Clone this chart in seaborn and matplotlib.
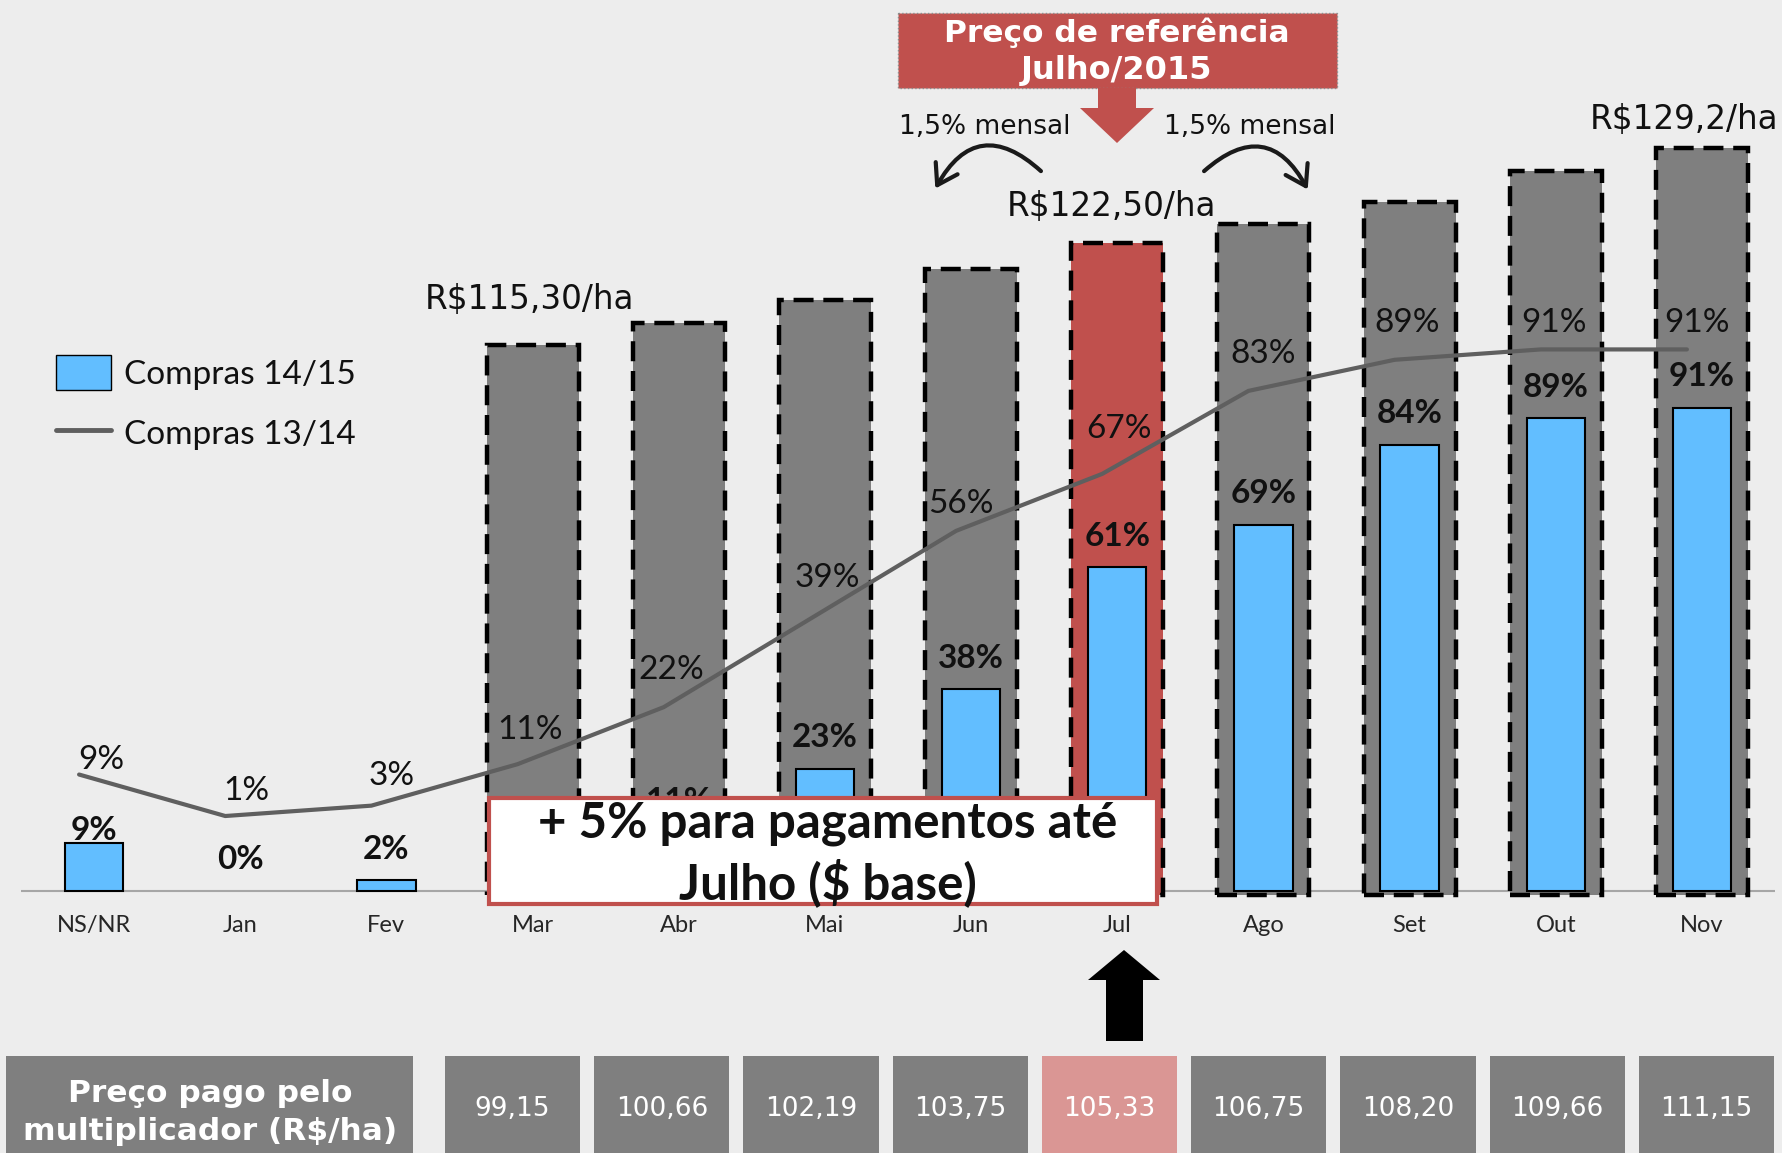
import numpy as np
import matplotlib.pyplot as plt
import seaborn as sns
from matplotlib.colors import ListedColormap
from matplotlib.patches import Rectangle, Polygon, FancyArrowPatch, Patch
from matplotlib.lines import Line2D
from matplotlib.transforms import offset_copy

# values
months = ['NS/NR', 'Jan', 'Fev', 'Mar', 'Abr', 'Mai', 'Jun', 'Jul', 'Ago', 'Set', 'Out', 'Nov']
compras_1415 = [9, 0, 2, 5, 11, 23, 38, 61, 69, 84, 89, 91]
compras_1314 = [9, 1, 3, 11, 22, 39, 56, 67, 83, 89, 91, 91]

price_months = ['Mar', 'Abr', 'Mai', 'Jun', 'Jul', 'Ago', 'Set', 'Out', 'Nov']
price_ref = [115.30, 116.83, 118.45, 120.61, 122.50, 123.82, 125.38, 127.57, 129.20]
price_labels = {'Mar': 'R$115,30/ha', 'Jul': 'R$122,50/ha', 'Nov': 'R$129,2/ha'}
ref_month = 'Jul'
price_paid = ['99,15', '100,66', '102,19', '103,75', '105,33', '106,75', '108,20', '109,66', '111,15']

# label offsets in pixels (layout only)
line_lab_off = [(7, 15), (6, 25), (5, 30), (-3, 34), (-8, 37), (2, 41),
                (-10, 27), (2, 45), (0, 37), (-2, 37), (-2, 26), (-5, 26)]
price_lab_off = {'Mar': (-3, 45), 'Jul': (-6, 36), 'Nov': (-18, 28)}
hidden_labels = ['Mar']  # sits fully under the note box on the slide

BG = '#EDEDED'
BLUE = '#62BEFF'
GRAY = '#7F7F7F'
RED = '#C0504D'
PINK = '#DA9694'
LINE = '#5F5F5F'

sns.set_style('white')
plt.rcParams['font.family'] = ['Lato', 'DejaVu Sans']
plt.rcParams['text.color'] = '#111111'

W, H = 1783, 1153
fig = plt.figure(figsize=(W / 100, H / 100), dpi=100, facecolor=BG)


def fx(x):
    return x / W


def fy(y):
    return 1 - y / H


# price axis (grey reference bars)
ax = fig.add_axes([fx(21), fy(900), (1775 - 21) / W, 900 / H])
ax.patch.set_visible(False)
p_base = 76.7
xs = [months.index(m) for m in price_months]
cols = [RED if m == ref_month else GRAY for m in price_months]
ax.axhline(p_base, color='#A6A6A6', lw=1.5, zorder=0.5)
ax.bar(xs, np.array(price_ref) - (p_base - 0.3), bottom=p_base - 0.3, width=0.63,
       color=cols, edgecolor='black', linewidth=3.2, linestyle=(0, (4.5, 2.2)), zorder=2)
ax.set_ylim(76.06, 139.65)
for m, lab in price_labels.items():
    i = price_months.index(m)
    ax.annotate(lab, (months.index(m), price_ref[i]), xytext=price_lab_off[m],
                textcoords='offset pixels', ha='center', va='center',
                fontsize=23.5, family='DejaVu Sans')

# percentage axis (blue bars)
axp = ax.twinx()
sns.barplot(x=months, y=compras_1415, ax=axp, color=BLUE, width=0.4, saturation=1,
            edgecolor='black', linewidth=1.5)
for p in axp.patches:
    if p.get_height() == 0:
        p.set_linewidth(0)
axp.set_ylim(-1.695, 167.8)
for i, v in enumerate(compras_1415):
    if months[i] in hidden_labels:
        continue
    axp.annotate(f'{v}%', (i, v), xytext=(0, 13 if i == 0 else 31), textcoords='offset pixels',
                 ha='center', va='center', fontsize=24, fontweight='bold')

# line axis (compras 13/14)
axl = ax.twinx()
sns.lineplot(x=np.arange(len(months)), y=compras_1314, ax=axl, color=LINE, linewidth=3, sort=False)
axl.lines[0].set_transform(offset_copy(axl.transData, fig=fig, x=-15, y=0, units='dots'))
axl.set_ylim(-15.2, 158.4)
for i, v in enumerate(compras_1314):
    axl.annotate(f'{v}%', (i, v), xytext=line_lab_off[i], textcoords='offset pixels',
                 ha='center', va='center', fontsize=24)

for a in (ax, axp, axl):
    for s in a.spines.values():
        s.set_visible(False)
    a.set_yticks([])
    a.set_ylabel('')
ax.set_xlim(-0.5, len(months) - 0.5)
ax.set_xticks(range(len(months)))
ax.set_xticklabels(months, fontsize=17, color='#262626')
ax.tick_params(axis='x', length=0, pad=11)

fig.legend(handles=[Patch(facecolor=BLUE, edgecolor='black', label='Compras 14/15'),
                    Line2D([], [], color=LINE, lw=3.5, label='Compras 13/14')],
           loc='upper left', bbox_to_anchor=(fx(56), fy(355)), frameon=False,
           prop={'family': 'Lato', 'size': 24}, handlelength=1.65, handleheight=1.25,
           handletextpad=0.4, labelspacing=0.75, borderpad=0, borderaxespad=0)

# price table at the bottom
tax = fig.add_axes([fx(438), fy(1168), (1781 - 438) / W, 119 / H])
flags = np.array([[int(m == ref_month) for m in price_months]])
sns.heatmap(flags, ax=tax, cmap=ListedColormap([GRAY, PINK]), vmin=0, vmax=1, cbar=False,
            annot=np.array([price_paid]), fmt='',
            annot_kws={'color': 'white', 'fontsize': 19, 'family': 'DejaVu Sans'},
            linewidths=10, linecolor=BG, xticklabels=False, yticklabels=False)

# overlay for boxes and arrows
ov = fig.add_axes([0, 0, 1, 1], zorder=10)
ov.set_xlim(0, W)
ov.set_ylim(H, 0)
ov.axis('off')
ov.patch.set_alpha(0)

ov.add_patch(Rectangle((6, 1056), 407, 100, facecolor=GRAY, lw=0))
ov.text(210, 1093, 'Preço pago pelo', ha='center', va='center', color='white',
        fontsize=22.5, fontweight='bold', family='DejaVu Sans')
ov.text(210, 1131, 'multiplicador (R$/ha)', ha='center', va='center', color='white',
        fontsize=22.5, fontweight='bold', family='DejaVu Sans')

ov.add_patch(Rectangle((898, 13), 439, 75, facecolor=RED, edgecolor='#8C8C8C', lw=1, linestyle=':'))
ov.text(1117, 33, 'Preço de referência', ha='center', va='center', color='white',
        fontsize=22.5, fontweight='bold', family='DejaVu Sans')
ov.text(1117, 71, 'Julho/2015', ha='center', va='center', color='white',
        fontsize=23, fontweight='bold', family='DejaVu Sans')
ov.add_patch(Polygon([(1098, 88), (1136, 88), (1136, 108), (1154, 108), (1117, 143),
                      (1080, 108), (1098, 108)], closed=True, facecolor=RED, lw=0))

ov.text(985, 127, '1,5% mensal', ha='center', va='center', fontsize=19, family='DejaVu Sans')
ov.text(1250, 127, '1,5% mensal', ha='center', va='center', fontsize=19, family='DejaVu Sans')
ov.add_patch(FancyArrowPatch((1043, 173), (934, 191), connectionstyle='arc3,rad=0.65',
                             arrowstyle='->,head_length=0.7,head_width=0.45', mutation_scale=20,
                             lw=3, color='#1A1A1A'))
ov.add_patch(FancyArrowPatch((1202, 173), (1309, 192), connectionstyle='arc3,rad=-0.65',
                             arrowstyle='->,head_length=0.7,head_width=0.45', mutation_scale=20,
                             lw=3, color='#1A1A1A'))

ov.add_patch(Rectangle((489, 798), 668, 106, facecolor='white', edgecolor=RED, lw=3))
ov.text(828, 854, '+ 5% para pagamentos até\nJulho ($ base)', ha='center', va='center',
        fontsize=35.5, fontweight='bold', family='Lato', linespacing=1.28)

ov.add_patch(Polygon([(1106, 1041), (1143, 1041), (1143, 980), (1160, 980), (1124, 950),
                      (1088, 980), (1106, 980)], closed=True, facecolor='black', lw=0))

fig.savefig('out.png', dpi=100, facecolor=BG)
